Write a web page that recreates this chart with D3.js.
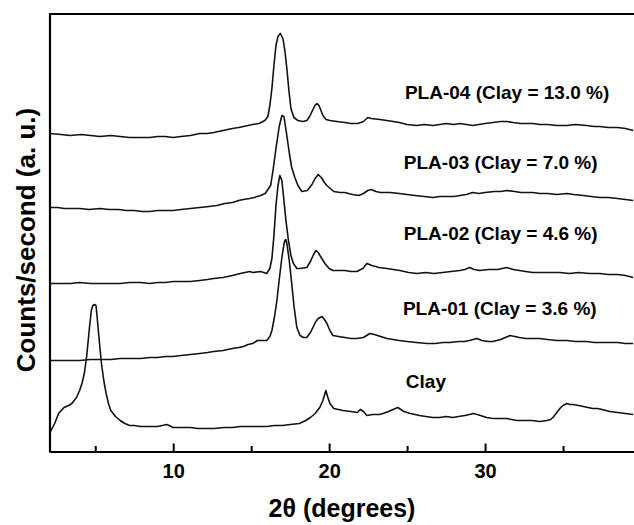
<!DOCTYPE html>
<html>
<head>
<meta charset="utf-8">
<script src="https://cdn.jsdelivr.net/npm/d3@7"></script>
<style>
  html, body { margin: 0; padding: 0; background: #fff; }
  svg { display: block; font-family: "Liberation Sans", Arial, Helvetica, sans-serif; }
</style>
</head>
<body>
<svg id="chart" width="634" height="525"></svg>
<script>
// ---- data (2θ in degrees, intensity in arbitrary units incl. vertical stacking offset) ----
const pla04 = [
  [2.1,318],[2.8,317],[3.4,316],[4.1,317],[4.7,316],[5.3,315],[6.0,316],[6.6,315],[7.2,314],[7.9,314],
  [8.5,314],[9.0,315],[9.5,315],[10.0,314],[10.5,315],[11.1,316],[11.7,318],[12.2,318],[12.6,319],[13.2,321],
  [13.8,323],[14.2,324],[14.5,325],[14.8,326],[15.1,327],[15.5,328],[15.88,331],[16.07,335],[16.2,346],[16.33,363],
  [16.46,386],[16.59,406],[16.72,415],[16.87,418],[17.04,413],[17.16,401],[17.29,383],[17.42,361],[17.55,343],[17.74,334],
  [18.0,331],[18.3,330],[18.57,331],[18.75,335],[18.9,340],[19.09,346],[19.22,348],[19.35,346],[19.6,336],[19.8,332],
  [20.05,331],[20.5,330],[21.0,329],[21.4,328],[21.84,328],[22.2,330],[22.48,334],[22.7,333],[23.25,332],[23.7,331],
  [24.1,330],[24.5,329],[25.0,327],[25.6,326],[26.1,327],[26.65,326],[27.1,327],[27.5,328],[28.0,327],[28.38,328],
  [28.8,327],[29.22,326],[29.6,327],[30.0,328],[30.5,329],[31.0,330],[31.4,330],[31.8,329],[32.3,328],[32.7,328],
  [33.06,328],[33.5,327],[34.0,327],[34.6,326],[35.24,326],[35.8,327],[36.5,326],[37.0,325],[37.36,325],[37.9,324],
  [38.5,324],[39.0,323],[39.5,321]
];
const pla03 = [
  [2.1,244],[2.6,244],[3.0,243],[3.5,243],[4.0,243],[4.6,242],[5.3,243],[5.9,242],[6.5,242],[7.0,241],
  [7.5,241],[8.0,240],[8.5,240],[9.0,241],[9.5,241],[10.0,241],[10.5,242],[11.1,243],[11.7,244],[12.3,245],
  [12.8,246],[13.3,248],[13.8,249],[14.2,251],[14.5,252],[14.9,253],[15.2,254],[15.6,256],[15.9,258],[16.25,266],
  [16.4,281],[16.6,304],[16.8,325],[16.97,336],[17.1,335],[17.25,320],[17.45,298],[17.6,284],[17.8,274],[18.0,266],
  [18.25,260],[18.6,261],[18.9,267],[19.1,273],[19.3,277],[19.5,274],[19.7,269],[19.85,266],[20.3,260],[20.7,259],
  [21.0,259],[21.5,257],[21.9,256],[22.2,258],[22.48,261],[22.7,262],[23.0,260],[23.3,259],[23.9,259],[24.5,258],
  [25.0,257],[25.5,256],[26.1,255],[26.65,254],[27.1,255],[27.5,255],[28.0,255],[28.4,256],[28.8,257],[29.2,259],
  [29.6,258],[30.0,259],[30.6,260],[31.0,260],[31.4,261],[31.9,260],[32.3,259],[32.7,259],[33.06,259],[33.5,258],
  [34.0,258],[34.6,257],[35.24,258],[35.7,257],[36.3,256],[36.8,255],[37.36,254],[37.9,254],[38.5,253],[39.0,252],
  [39.5,251]
];
const pla02 = [
  [2.1,168],[2.7,168],[3.4,168],[4.0,169],[4.7,168],[5.3,168],[6.0,168],[6.6,168],[7.2,169],[7.9,169],
  [8.5,168],[9.0,169],[9.5,169],[10.0,170],[10.5,170],[11.1,170],[11.7,171],[12.2,172],[12.6,173],[13.2,174],
  [13.8,176],[14.3,178],[14.9,180],[15.1,179],[15.6,180],[16.0,178],[16.2,183],[16.33,193],[16.46,216],[16.59,246],
  [16.72,266],[16.84,276],[16.97,271],[17.1,251],[17.23,231],[17.39,211],[17.55,196],[17.71,188],[17.93,183],[18.13,183],
  [18.57,184],[18.83,191],[19.0,197],[19.15,201],[19.3,199],[19.41,196],[19.73,188],[20.0,183],[20.24,181],[20.6,181],
  [21.0,181],[21.4,180],[21.78,180],[22.16,183],[22.42,188],[22.74,186],[23.2,184],[23.7,183],[24.1,182],[24.54,181],
  [25.1,179],[25.63,178],[26.2,179],[26.7,178],[27.29,179],[27.8,180],[28.38,181],[28.7,182],[29.02,184],[29.3,182],
  [29.66,181],[30.2,182],[30.8,182],[31.1,183],[31.4,184],[31.8,182],[32.2,181],[32.6,180],[33.06,179],[33.6,179],
  [34.2,179],[34.79,179],[35.4,178],[36.0,179],[36.7,178],[37.36,178],[37.9,177],[38.5,177],[39.0,176],[39.5,174]
];
const pla01 = [
  [2.1,91],[2.7,91],[3.4,91],[4.0,91],[4.7,92],[5.3,92],[6.0,92],[6.6,93],[7.2,93],[7.9,93],
  [8.5,94],[9.0,94],[9.5,95],[10.0,95],[10.5,96],[11.1,97],[11.7,98],[12.2,99],[12.6,100],[13.2,101],
  [13.8,103],[14.2,104],[14.5,105],[14.8,107],[15.1,108],[15.4,111],[15.7,111],[16.0,111],[16.2,115],[16.33,121],
  [16.5,135],[16.65,151],[16.8,172],[16.97,194],[17.1,207],[17.16,211],[17.22,212],[17.29,208],[17.45,190],[17.6,168],
  [17.75,145],[17.93,124],[18.13,116],[18.35,114],[18.57,114],[18.8,119],[18.96,124],[19.15,130],[19.3,133],[19.54,135],
  [19.7,132],[19.86,128],[20.05,121],[20.24,116],[20.6,115],[21.0,114],[21.4,113],[21.78,113],[22.2,114],[22.61,118],
  [22.9,117],[23.3,115],[23.7,113],[24.1,112],[24.5,111],[25.0,110],[25.6,109],[26.27,108],[26.8,108],[27.3,109],
  [27.74,109],[28.3,110],[28.7,110],[29.0,111],[29.47,113],[29.8,111],[30.2,110],[30.5,110],[31.0,112],[31.3,114],
  [31.6,116],[31.9,115],[32.2,114],[32.6,113],[33.06,113],[33.5,113],[34.0,112],[34.6,111],[35.24,111],[35.8,110],
  [36.5,110],[37.0,109],[37.36,109],[37.9,109],[38.5,109],[39.0,108],[39.5,108]
];
const clay = [
  [2.1,19],[2.4,28],[2.65,38],[3.0,44],[3.3,46],[3.5,48],[3.8,54],[4.0,61],[4.15,68],[4.3,78],
  [4.45,95],[4.55,111],[4.65,127],[4.75,141],[4.85,146],[4.95,147],[5.05,146],[5.12,135],[5.2,121],[5.3,104],
  [5.4,88],[5.55,71],[5.7,58],[5.85,48],[6.0,41],[6.3,35],[6.6,31],[6.9,28],[7.2,26],[7.5,26],
  [7.9,25],[8.4,25],[9.0,25],[9.3,26],[9.6,27],[10.0,24],[10.5,24],[11.1,24],[11.6,23],[12.0,23],
  [12.6,23],[13.3,24],[13.8,24],[14.3,25],[14.9,25],[15.5,25],[16.0,25],[16.5,26],[17.0,26],[17.5,27],
  [18.1,28],[18.5,31],[18.8,34],[19.1,38],[19.4,44],[19.6,51],[19.79,61],[19.92,54],[20.05,48],[20.3,43],
  [20.6,42],[20.88,41],[21.4,40],[21.8,39],[22.0,42],[22.2,40],[22.42,36],[22.8,37],[23.2,37],[23.45,38],
  [23.8,40],[24.1,42],[24.4,44],[24.6,42],[24.8,40],[25.2,38],[25.5,37],[25.8,36],[26.2,35],[26.65,34],
  [27.1,34],[27.5,35],[27.93,34],[28.3,35],[28.7,36],[29.0,37],[29.22,38],[29.5,37],[29.7,36],[30.1,34],
  [30.5,33],[31.0,33],[31.4,33],[31.7,32],[32.04,31],[32.5,31],[33.0,31],[33.5,30],[33.96,31],[34.2,32],
  [34.35,34],[34.55,38],[34.7,41],[34.85,44],[35.0,46],[35.24,48],[35.45,47],[35.63,47],[36.0,46],[36.3,45],
  [36.6,44],[36.91,43],[37.2,43],[37.5,42],[38.0,40],[38.5,39],[39.0,38],[39.5,37]
];
const seriesNames = ["PLA-04", "PLA-03", "PLA-02", "PLA-01", "Clay"];
const seriesData = [pla04, pla03, pla02, pla01, clay];
const labelTexts = ["PLA-04 (Clay = 13.0 %)", "PLA-03 (Clay = 7.0 %)", "PLA-02 (Clay = 4.6 %)", "PLA-01 (Clay = 3.6 %)", "Clay"];
const labelAnchors = [[24.86, 353], [24.79, 283], [24.79, 212], [24.73, 137], [24.92, 64]];
const majorTicks = [10, 20, 30];
const minorTicks = [5, 15, 25, 35];
const xTitle = "2θ (degrees)";
const yTitle = "Counts/second (a. u.)";

// ---- layout ----
const svg = d3.select("#chart");
const mLeft = 50, mRight = 634, mTop = 14, mBottom = 451.5;
const x = d3.scaleLinear().domain([2.1, 39.55]).range([mLeft, mRight]);
const y = d3.scaleLinear().domain([0, 437.5]).range([mBottom, mTop]);

svg.append("defs").append("clipPath").attr("id", "plotclip")
  .append("rect").attr("x", mLeft).attr("y", mTop).attr("width", mRight - mLeft).attr("height", mBottom - mTop);

// curves
const line = d3.line().x(d => x(d[0])).y(d => y(d[1])).curve(d3.curveLinear);
svg.append("g").attr("clip-path", "url(#plotclip)")
  .selectAll("path").data(seriesData).join("path")
  .attr("d", line)
  .attr("fill", "none")
  .attr("stroke", "#111")
  .attr("stroke-width", 1.6)
  .attr("stroke-linejoin", "round");

// frame: top and left lines
svg.append("line").attr("x1", mLeft).attr("x2", mRight).attr("y1", mTop).attr("y2", mTop)
  .attr("stroke", "#000").attr("stroke-width", 2.2);
svg.append("line").attr("x1", mLeft).attr("x2", mLeft).attr("y1", mTop - 1).attr("y2", mBottom + 1)
  .attr("stroke", "#000").attr("stroke-width", 2.2);

// bottom axis (ticks inward)
const gx = svg.append("g").attr("transform", `translate(0,${mBottom})`)
  .call(d3.axisBottom(x).tickValues(majorTicks).tickSizeInner(-8).tickSizeOuter(0).tickPadding(12).tickFormat(d3.format("d")));
gx.select(".domain").attr("stroke", "#000").attr("stroke-width", 2.2);
gx.selectAll(".tick line").attr("stroke", "#000").attr("stroke-width", 2);
gx.selectAll(".tick text").attr("font-size", 20).attr("font-weight", "bold").attr("fill", "#000")
  .attr("font-family", "'Liberation Sans', Arial, sans-serif");

const gm = svg.append("g").attr("transform", `translate(0,${mBottom})`)
  .call(d3.axisBottom(x).tickValues(minorTicks).tickSizeInner(-5.5).tickSizeOuter(0).tickFormat(""));
gm.select(".domain").remove();
gm.selectAll(".tick line").attr("stroke", "#000").attr("stroke-width", 2);

// series labels
svg.append("g").selectAll("text").data(labelTexts).join("text")
  .attr("x", (d, i) => x(labelAnchors[i][0]))
  .attr("y", (d, i) => y(labelAnchors[i][1]))
  .attr("font-size", 19).attr("font-weight", "bold").attr("fill", "#000")
  .text(d => d);

// axis titles
svg.append("text").attr("x", (mLeft + mRight) / 2).attr("y", 517)
  .attr("text-anchor", "middle").attr("font-size", 25).attr("font-weight", "bold").attr("fill", "#000")
  .text(xTitle);
svg.append("text").attr("transform", "translate(35,240) rotate(-90)")
  .attr("text-anchor", "middle").attr("font-size", 26).attr("font-weight", "bold").attr("fill", "#000")
  .text(yTitle);
</script>
</body>
</html>
